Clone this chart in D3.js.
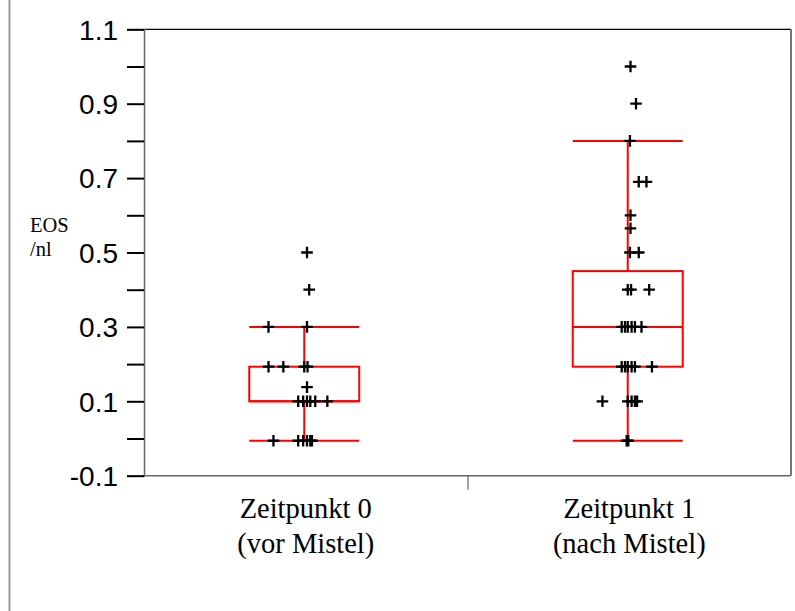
<!DOCTYPE html>
<html>
<head>
<meta charset="utf-8">
<script src="https://cdn.jsdelivr.net/npm/d3@7"></script>
<style>
  html, body { margin: 0; padding: 0; background: #fff; }
  svg { display: block; }
</style>
</head>
<body>
<svg id="chart" width="795" height="611"></svg>
<script>
// Eosinophil counts (EOS /nl) before and after mistletoe therapy
const categories = ["Zeitpunkt 0", "Zeitpunkt 1"];
const categoryLines = [["Zeitpunkt 0", "(vor Mistel)"], ["Zeitpunkt 1", "(nach Mistel)"]];

// Box summary per time point
const whiskerLow  = [-0.006, -0.006];
const quartile1   = [0.1, 0.193];
const medians     = [0.1, 0.3];
const quartile3   = [0.193, 0.45];
const whiskerHigh = [0.3, 0.8];

// Individual measurements and their horizontal jitter (fraction of half box width)
const valuesT0 = [0.5, 0.4, 0.3, 0.3, 0.193, 0.193, 0.193, 0.193, 0.138,
  0.1, 0.1, 0.1, 0.1, 0.1, 0.1, -0.006, -0.006, -0.006, -0.006, -0.006, -0.006];
const jitterT0 = [0.05, 0.09, -0.65, 0.05, -0.65, -0.38, 0.0, 0.06, 0.05,
  -0.11, -0.02, 0.05, 0.11, 0.2, 0.42, -0.56, -0.11, -0.02, 0.05, 0.11, 0.14];
const valuesT1 = [1.0, 0.9, 0.8, 0.69, 0.69, 0.6, 0.565, 0.5, 0.5, 0.4, 0.4, 0.4,
  0.3, 0.3, 0.3, 0.3, 0.3, 0.3, 0.193, 0.193, 0.193, 0.193, 0.193, 0.193,
  0.1, 0.1, 0.1, 0.1, 0.1, -0.006, -0.006];
const jitterT1 = [0.05, 0.15, 0.04, 0.2, 0.34, 0.05, 0.05, 0.04, 0.2, 0.0, 0.06, 0.39,
  -0.11, -0.05, 0.0, 0.07, 0.13, 0.25, -0.11, -0.05, 0.0, 0.07, 0.13, 0.44,
  -0.46, 0.0, 0.07, 0.13, 0.17, -0.02, 0.01];

const yTicksMajor = [-0.1, 0.1, 0.3, 0.5, 0.7, 0.9, 1.1];
const yTicksAll = [-0.1, 0, 0.1, 0.2, 0.3, 0.4, 0.5, 0.6, 0.7, 0.8, 0.9, 1.0, 1.1];

const svg = d3.select("#chart");

const plot = { left: 144, right: 791, top: 29.3, bottom: 475.7 };

const x = d3.scaleBand().domain(categories).range([plot.left, plot.right]).padding(0);
const y = d3.scaleLinear().domain([-0.1, 1.1]).range([plot.bottom, plot.top]);

const boxW = x.bandwidth() * 0.34;
const half = boxW / 2;

// thin grey rule on the far left of the page
svg.append("line")
  .attr("x1", 9.5).attr("x2", 9.5).attr("y1", 0).attr("y2", 611)
  .attr("stroke", "#9a9a9a").attr("stroke-width", 2);

// frame
svg.append("line").attr("x1", plot.left).attr("x2", plot.right)
  .attr("y1", plot.top).attr("y2", plot.top)
  .attr("stroke", "#000").attr("stroke-width", 1.2);
svg.append("line").attr("x1", plot.right).attr("x2", plot.right)
  .attr("y1", plot.top).attr("y2", plot.bottom)
  .attr("stroke", "#777").attr("stroke-width", 2);
svg.append("line").attr("x1", plot.left).attr("x2", plot.right)
  .attr("y1", plot.bottom).attr("y2", plot.bottom)
  .attr("stroke", "#666").attr("stroke-width", 1.5);

// y axis
const fmt = d3.format(".1f");
const yAxis = d3.axisLeft(y)
  .tickValues(yTicksAll)
  .tickSize(17)
  .tickPadding(9)
  .tickFormat(d => yTicksMajor.some(t => Math.abs(t - d) < 1e-9) ? fmt(d).replace("\u2212", "-") : "");
const gy = svg.append("g").attr("transform", `translate(${plot.left},0)`).call(yAxis);
gy.attr("font-size", null).attr("font-family", null);
gy.select(".domain").attr("stroke", "#666").attr("stroke-width", 1.5);
gy.selectAll(".tick line").attr("stroke", "#000").attr("stroke-width", 2);
gy.selectAll(".tick text")
  .style("font-family", "'Liberation Sans', Arial, sans-serif")
  .style("font-size", "28px")
  .attr("fill", "#000")
  .attr("dy", "0.35em");

// x axis: single divider tick between the groups
const gx = svg.append("g").attr("transform", `translate(0,${plot.bottom})`);
gx.append("line")
  .attr("x1", (plot.left + plot.right) / 2 + 0.5).attr("x2", (plot.left + plot.right) / 2 + 0.5)
  .attr("y1", 0).attr("y2", 14)
  .attr("stroke", "#444").attr("stroke-width", 1);
categories.forEach((c, i) => {
  const t = gx.append("text")
    .attr("x", x(c) + x.bandwidth() / 2)
    .attr("y", 42)
    .attr("text-anchor", "middle")
    .style("font-family", "'Liberation Serif', 'Times New Roman', serif")
    .style("font-size", "28.5px")
    .attr("fill", "#000");
  categoryLines[i].forEach((ln, k) => {
    t.append("tspan").attr("x", x(c) + x.bandwidth() / 2).attr("dy", k === 0 ? 0 : 35.5).text(ln);
  });
});

// y axis title
const yt = svg.append("text")
  .style("font-family", "'Liberation Serif', 'Times New Roman', serif")
  .style("font-size", "20.5px")
  .attr("fill", "#000");
yt.append("tspan").attr("x", 30).attr("y", 232).text("EOS");
yt.append("tspan").attr("x", 30).attr("y", 256).text("/nl");

// box plots
const red = "#ff0000";
categories.forEach((c, i) => {
  const cx = x(c) + x.bandwidth() / 2 - 1.5;
  const g = svg.append("g");
  // whisker stem
  g.append("line").attr("x1", cx).attr("x2", cx)
    .attr("y1", y(whiskerLow[i])).attr("y2", y(whiskerHigh[i]))
    .attr("stroke", red).attr("stroke-width", 2);
  // whisker caps
  [whiskerLow[i], whiskerHigh[i]].forEach(v => {
    g.append("line").attr("x1", cx - half).attr("x2", cx + half)
      .attr("y1", y(v)).attr("y2", y(v))
      .attr("stroke", red).attr("stroke-width", 2);
  });
  // box
  g.append("rect")
    .attr("x", cx - half).attr("width", boxW)
    .attr("y", y(quartile3[i])).attr("height", y(quartile1[i]) - y(quartile3[i]))
    .attr("fill", "#fff").attr("stroke", red).attr("stroke-width", 2);
  // median
  g.append("line").attr("x1", cx - half).attr("x2", cx + half)
    .attr("y1", y(medians[i])).attr("y2", y(medians[i]))
    .attr("stroke", red).attr("stroke-width", 2);
});

// individual points drawn as plus signs
const pointSets = [
  { vals: valuesT0, jit: jitterT0 },
  { vals: valuesT1, jit: jitterT1 }
];
const arm = 5.8;
pointSets.forEach((s, i) => {
  const cx = x(categories[i]) + x.bandwidth() / 2 - 1.5;
  const g = svg.append("g");
  s.vals.forEach((v, k) => {
    const px = cx + s.jit[k] * half;
    const py = y(v);
    g.append("path")
      .attr("d", `M${px - arm},${py}H${px + arm}M${px},${py - arm}V${py + arm}`)
      .attr("stroke", "#000").attr("stroke-width", 2.3).attr("fill", "none");
  });
});
</script>
</body>
</html>
